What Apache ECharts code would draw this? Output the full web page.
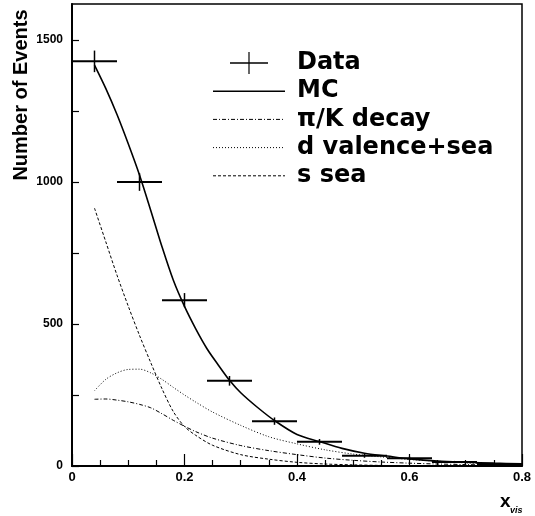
<!DOCTYPE html>
<html>
<head>
<meta charset="utf-8">
<script src="https://cdn.jsdelivr.net/npm/echarts@6/dist/echarts.min.js"></script>
<style>html,body{margin:0;padding:0;background:#fff;}#c{width:535px;height:516px;}</style>
</head>
<body>
<div id="c"></div>
<script>
// ---- data ----
const dataX   = [0.04, 0.12, 0.20, 0.28, 0.36, 0.44, 0.52, 0.60, 0.68, 0.76];
const dataY   = [1425, 1000, 584, 300, 158, 85, 36, 27, 14, 7];
const dataErr = [38, 31, 25, 17, 13, 10, 7, 6, 4, 3];
const binHalf = 0.04;

const mcX = [0.04,0.06,0.08,0.10,0.12,0.14,0.16,0.18,0.20,0.22,0.24,0.26,0.28,0.30,0.33,0.36,0.40,0.44,0.48,0.52,0.56,0.60,0.65,0.70,0.75,0.80];
const mcY = [1412,1330,1238,1135,1025,900,772,655,562,483,413,356,302,258,206,160,111,86,62,45,35,25,17,13,10,8];

const curveX = [0.04,0.06,0.08,0.10,0.12,0.14,0.16,0.18,0.20,0.22,0.25,0.30,0.35,0.40,0.45,0.50,0.55,0.60,0.65,0.70,0.75,0.80];
const piKY   = [235,236,232,226,217,205,184,161,140,121,98,72,54,40,28,20,14,10,7,5,3,2];
const dvalY  = [265,305,328,340,341,328,305,277,250,225,190,143,103,78,57,42,32,23,17,11,7,5];
const sseaY  = [908,790,672,563,460,364,272,192,139,108,73,40,24,13,7,4,2,1,1,0,0,0];

const legendNames = ['Data', 'MC', 'π/K decay', 'd valence+sea', 's sea'];
const yTickLabels = [0, 500, 1000, 1500];
const xTickLabels = [0, 0.2, 0.4, 0.6, 0.8];

const DASHDOT = [4, 2, 1, 2];
const DOTTED = [1, 2];
const DASHED = [3, 2];

function pairs(xs, ys) { return xs.map((x, i) => [x, ys[i]]); }

const chart = echarts.init(document.getElementById('c'), null, {renderer: 'canvas'});

const legendTop = 63, legendStep = 28.2, lx0 = 213, lx1 = 285, tx = 297;
const legendGraphics = [];
// Data cross
legendGraphics.push({type:'line', shape:{x1:230, y1:legendTop, x2:268, y2:legendTop}, style:{stroke:'#000', lineWidth:1.5}});
legendGraphics.push({type:'line', shape:{x1:249, y1:legendTop-11, x2:249, y2:legendTop+11}, style:{stroke:'#000', lineWidth:1.2}});
const styles = [null, {lineWidth:1.6}, {lineWidth:1, lineDash:DASHDOT}, {lineWidth:1, lineDash:DOTTED}, {lineWidth:1, lineDash:DASHED}];
for (let i = 1; i < 5; i++) {
  const y = legendTop + legendStep * i;
  legendGraphics.push({type:'line', shape:{x1:lx0, y1:y, x2:lx1, y2:y}, style:Object.assign({stroke:'#000'}, styles[i])});
}
for (let i = 0; i < 5; i++) {
  legendGraphics.push({type:'text', x:tx, y:legendTop + legendStep * i, style:{text:legendNames[i], fill:'#000', font:'bold 24px "DejaVu Sans"', align:'left', verticalAlign:'middle'}});
}

const option = {
  animation: false,
  backgroundColor: '#fff',
  grid: {left:72, right:13, top:4, bottom:50, containLabel:false, outerBoundsMode:'none', show:true, borderColor:'#000', borderWidth:1.5, backgroundColor:'transparent'},
  xAxis: {
    type:'value', min:0, max:0.8, interval:0.2,
    axisLine:{show:true, lineStyle:{color:'#000', width:2}},
    axisTick:{show:true, inside:true, length:12, lineStyle:{color:'#000', width:1.2}},
    minorTick:{show:true, splitNumber:4, length:6, lineStyle:{color:'#000', width:1.2}},
    splitLine:{show:false},
    axisLabel:{margin:5, color:'#000', fontWeight:'bold', fontSize:13, fontFamily:'"Liberation Sans"',
      formatter: v => { const m = xTickLabels.find(t => Math.abs(t - v) < 1e-9); return m === undefined ? '' : (m === 0 ? '0' : m.toFixed(1)); }}
  },
  yAxis: {
    type:'value', min:0, max:1627, interval:250,
    axisLine:{show:true, lineStyle:{color:'#000', width:2}},
    axisTick:{show:true, inside:true, length:7, lineStyle:{color:'#000', width:1.2}},
    splitLine:{show:false},
    axisLabel:{margin:9, color:'#000', fontWeight:'bold', fontSize:12, fontFamily:'"Liberation Sans"', showMaxLabel:false,
      formatter: v => yTickLabels.indexOf(v) >= 0 ? String(v) : ''}
  },
  graphic: [
    {type:'text', x:21, y:95, rotation:Math.PI/2, style:{text:'Number of Events', fill:'#000', font:'bold 20px "Liberation Sans"', align:'center', verticalAlign:'middle'}},
    {type:'text', x:500, y:511, style:{text:'x', fill:'#000', font:'bold 19px "Liberation Sans"', align:'left', verticalAlign:'bottom'}},
    {type:'text', x:510, y:515, style:{text:'vis', fill:'#000', font:'italic bold 9px "Liberation Sans"', align:'left', verticalAlign:'bottom'}}
  ].concat(legendGraphics),
  series: [
    {type:'line', name:'π/K decay', data:pairs(curveX, piKY), smooth:0.3, showSymbol:false, symbol:'none', lineStyle:{color:'#000', width:1, type:DASHDOT}, z:2},
    {type:'line', name:'d valence+sea', data:pairs(curveX, dvalY), smooth:0.3, showSymbol:false, symbol:'none', lineStyle:{color:'#000', width:1, type:DOTTED}, z:2},
    {type:'line', name:'s sea', data:pairs(curveX, sseaY), smooth:0.3, showSymbol:false, symbol:'none', lineStyle:{color:'#000', width:1, type:DASHED}, z:2},
    {type:'line', name:'MC', data:pairs(mcX, mcY), smooth:0.3, showSymbol:false, symbol:'none', lineStyle:{color:'#000', width:1.6}, z:3},
    {type:'custom', name:'Data', data:dataX.map((x, i) => [x, dataY[i], dataErr[i]]), encode:{x:0, y:1}, z:4,
      renderItem: function (params, api) {
        const x = api.value(0), y = api.value(1), e = api.value(2);
        const l = api.coord([x - binHalf, y]), r = api.coord([x + binHalf, y]);
        const t = api.coord([x, y + e]), b = api.coord([x, y - e]);
        return {type:'group', children:[
          {type:'line', shape:{x1:l[0], y1:l[1], x2:r[0], y2:r[1]}, style:{stroke:'#000', lineWidth:2}},
          {type:'line', shape:{x1:t[0], y1:t[1], x2:b[0], y2:b[1]}, style:{stroke:'#000', lineWidth:1.5}}
        ]};
      }}
  ]
};
chart.setOption(option);
</script>
</body>
</html>
